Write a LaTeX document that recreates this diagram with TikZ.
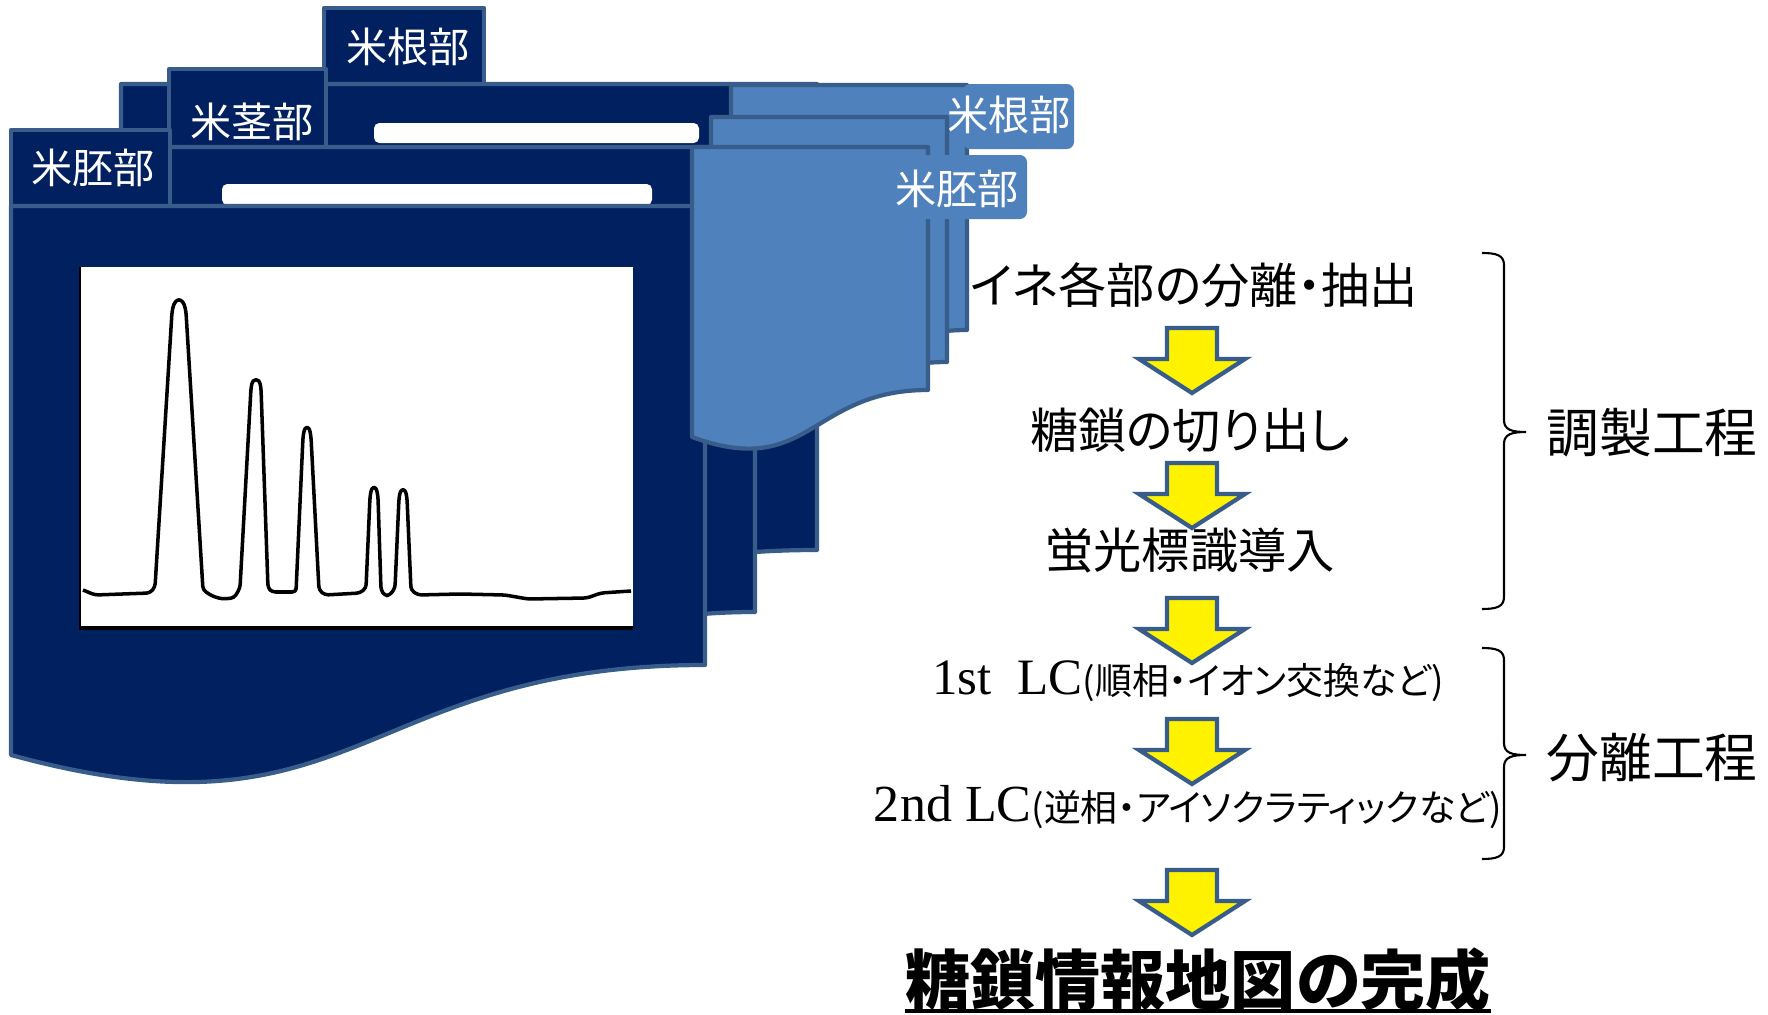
\documentclass[tikz,border=0pt]{standalone}
\usepackage{fontspec}
\newfontfamily\jp[RawFeature=+palt]{Noto Sans CJK JP}
\newfontfamily\tm{Liberation Serif}
\definecolor{navy}{RGB}{0,32,96}
\definecolor{edgeblue}{RGB}{56,93,138}
\definecolor{lightblue}{RGB}{79,129,189}
\tikzset{
  darkwin/.style={fill=navy,draw=edgeblue,line width=1.2pt,line join=round},
  lightwin/.style={fill=lightblue,draw=edgeblue,line width=1.2pt,line join=round},
  lighttab/.style={fill=lightblue,rounded corners=2pt},
  titlebar/.style={fill=white,rounded corners=1.5pt},
  tablabel/.style={text=white,font=\jp\fontsize{11.7}{14}\selectfont,inner sep=0pt},
  stepnode/.style={font=\jp\fontsize{13.7}{16}\selectfont,inner sep=0pt},
  phaselabel/.style={font=\jp\fontsize{15}{17}\selectfont,inner sep=0pt},
  blockarrow/.style={fill=yellow,draw=edgeblue,line width=1.2pt,line join=miter},
  bracestyle/.style={draw=black,line width=0.6pt},
  chrom/.style={draw=black,line width=1pt,rounded corners=1pt,line join=round},
  blockdown/.pic={\path[blockarrow] (-25,0) -- (25,0) -- (25,31) -- (53,31) -- (0,65) -- (-53,31) -- (-25,31) -- cycle;}
}
\begin{document}
\begin{tikzpicture}[x=0.01cm,y=-0.01cm]
\useasboundingbox (0,0) rectangle (1768,1015);

% ---- dark back window (C) ----
\path[darkwin] (324,8) rectangle (484,84);
\path[darkwin] (121,84) -- (817,84) -- (817,550) .. controls (469,550) and (469,727) .. (121,627) -- cycle;
\path[titlebar] (374,123) rectangle (699,143);
\node[tablabel] (tabC) at (408,47) {米根部};

% ---- dark middle window (B) ----
\path[darkwin] (169,69) rectangle (326,147);
\path[darkwin] (169,147) -- (755,147) -- (755,612) .. controls (462,612) and (462,789) .. (169,689) -- cycle;
\path[titlebar] (222,184) rectangle (652,205);
\node[tablabel] (tabB) at (252,122) {米茎部};

% ---- dark front window (A) ----
\path[darkwin] (11,130) rectangle (170,207);
\path[darkwin] (11,206) -- (705,206) -- (705,665) .. controls (358,665) and (358,850) .. (11,755) -- cycle;
\node[tablabel] (tabA) at (93,168) {米胚部};

% chart
\path[fill=white] (79,267) rectangle (633,630);
\draw[line width=0.8pt] (80,267) -- (80,630);
\draw[line width=1.1pt] (79,628) -- (633,628);
\draw[chrom] (83,590) -- (95,595) -- (150,593) -- (155,587)
  -- (172,312) .. controls (175,297) and (183,297) .. (186,312) -- (203,590) -- (212,596)
  -- (222,599) -- (234,598) -- (240,588)
  -- (251,388) .. controls (253,378) and (259,378) .. (261,388) -- (268,588) -- (272,592) -- (296,592)
  -- (303,437) .. controls (305,425) and (309,425) .. (311,437) -- (319,590) -- (325,595) -- (360,593) -- (366,588)
  -- (370,497) .. controls (372,485) and (376,485) .. (378,497) -- (381,590)
  -- (385,596) -- (390,595) -- (395,588)
  -- (399,498) .. controls (401,488) and (405,488) .. (407,498) -- (411,590) -- (418,595) -- (460,594)
  -- (505,595) -- (528,599) -- (587,598) -- (601,593) -- (631,591);

% ---- light windows ----
\path[lightwin] (731,85) -- (967,85) -- (967,330) .. controls (849,330) and (849,420) .. (731,377) -- cycle;
\path[lighttab] (963,84) rectangle (1074,149);
\node[tablabel] (tabL3) at (1009,115) {米根部};
\path[lightwin] (711,117) -- (947,117) -- (947,362) .. controls (829,362) and (829,452) .. (711,409) -- cycle;
\path[lightwin] (692,147) -- (928,147) -- (928,390) .. controls (810,390) and (810,480) .. (692,437) -- cycle;
\path[lighttab] (893,155) rectangle (1027,219);
\node[tablabel] (tabL1) at (957,189) {米胚部};

% ---- flow ----
\node[stepnode] (s1) at (1194,285) {イネ各部の分離・抽出};
\pic (a1) at (1192,328) {blockdown};
\node[stepnode] (s2) at (1190,430) {糖鎖の切り出し};
\pic (a2) at (1192,463) {blockdown};
\node[stepnode] (s3) at (1190,551) {蛍光標識導入};
\pic (a3) at (1192,598) {blockdown};
\node[anchor=base,inner sep=0pt] (s4) at (1188,694)
  {{\tm\fontsize{14.5}{16}\selectfont 1st\ \ LC}{\jp\fontsize{10.5}{12}\selectfont (順相・イオン交換など)}};
\pic (a4) at (1192,719) {blockdown};
\node[anchor=base,inner sep=0pt] (s5) at (1188,821)
  {{\tm\fontsize{14.8}{16}\selectfont 2nd LC}{\jp\fontsize{10.5}{12}\selectfont (逆相・アイソクラティックなど)}};
\pic (a5) at (1192,870) {blockdown};
\node[font=\jp\bfseries\fontsize{18.5}{20}\selectfont,inner sep=0pt] (fin) at (1198,980) {糖鎖情報地図の完成};
\coordinate (ul) at (0,1011);
\draw[line width=0.9pt] (fin.west |- ul) -- (fin.east |- ul);

% ---- braces ----
\coordinate (b1) at (1526,432);
\draw[bracestyle] (1482,253) .. controls (1496,253) and (1504,255) .. (1504,265) -- (1504,420)
  .. controls (1504,430) and (1512,432) .. (b1) .. controls (1512,432) and (1504,434) .. (1504,444)
  -- (1504,597) .. controls (1504,607) and (1496,609) .. (1482,609);
\node[phaselabel] (p1) at (1652,433) {調製工程};
\coordinate (b2) at (1526,755);
\draw[bracestyle] (1482,648) .. controls (1496,648) and (1504,650) .. (1504,660) -- (1504,743)
  .. controls (1504,753) and (1512,755) .. (b2) .. controls (1512,755) and (1504,757) .. (1504,767)
  -- (1504,847) .. controls (1504,857) and (1496,859) .. (1482,859);
\node[phaselabel] (p2) at (1652,758) {分離工程};
\end{tikzpicture}
\end{document}
